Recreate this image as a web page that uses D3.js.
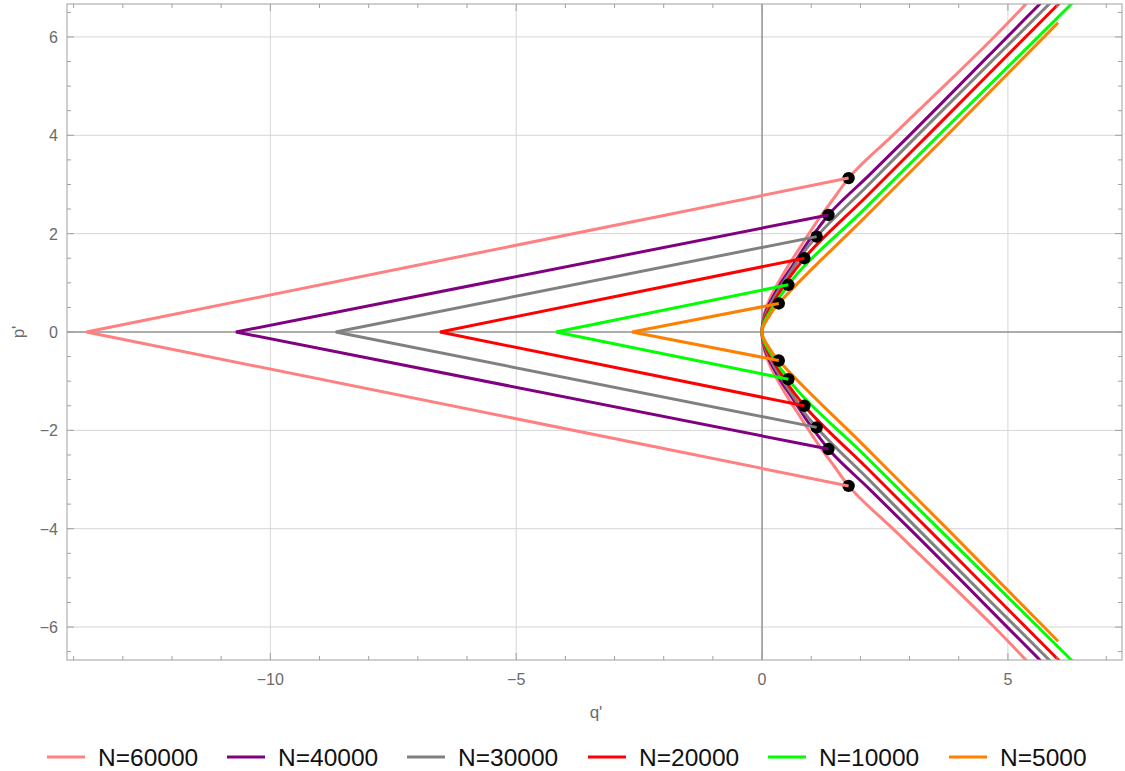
<!DOCTYPE html>
<html>
<head>
<meta charset="utf-8">
<script src="https://cdn.jsdelivr.net/npm/d3@7"></script>
<style>
  html, body { margin: 0; padding: 0; background: #fff; }
  svg { display: block; font-family: "Liberation Sans", Arial, sans-serif; }
</style>
</head>
<body>
<svg id="chart" width="1125" height="771"></svg>
<script>
// ---- data ----
const seriesLabels = ["N=60000", "N=40000", "N=30000", "N=20000", "N=10000", "N=5000"];
const seriesColors = ["#ff8080", "#800080", "#808080", "#ff0000", "#00ff00", "#ff8000"];

// upper branch of each curve: p' values and matching q' values (lower branch is its mirror)
const pPink   = [0, 0.34, 0.68, 1.02, 1.36, 1.70, 2.04, 2.38, 2.72, 3.13, 4.03, 5.0, 6.0, 7.0];
const qPink   = [0, 0.04, 0.16, 0.34, 0.54, 0.76, 0.98, 1.21, 1.46, 1.76, 2.69, 3.70, 4.72, 5.68];
const pPurple = [0, 0.26, 0.52, 0.78, 1.04, 1.29, 1.55, 1.81, 2.07, 2.38, 3.2, 4.03, 6.69, 7.0];
const qPurple = [0, 0.03, 0.12, 0.26, 0.41, 0.58, 0.75, 0.92, 1.11, 1.35, 2.19, 3.03, 5.67, 5.98];
const pGray   = [0, 0.21, 0.42, 0.63, 0.85, 1.06, 1.27, 1.48, 1.69, 1.94, 3.0, 4.03, 6.69, 7.0];
const qGray   = [0, 0.025, 0.10, 0.21, 0.34, 0.47, 0.61, 0.75, 0.90, 1.11, 2.17, 3.19, 5.86, 6.17];
const pRed    = [0, 0.16, 0.33, 0.49, 0.65, 0.81, 0.98, 1.14, 1.30, 1.50, 2.75, 4.03, 6.69, 7.0];
const qRed    = [0, 0.02, 0.08, 0.16, 0.26, 0.36, 0.47, 0.58, 0.70, 0.86, 2.12, 3.40, 6.05, 6.36];
const pGreen  = [0, 0.105, 0.21, 0.315, 0.42, 0.525, 0.63, 0.735, 0.84, 0.96, 2.5, 4.03, 6.69, 7.0];
const qGreen  = [0, 0.013, 0.05, 0.105, 0.17, 0.235, 0.30, 0.37, 0.45, 0.535, 2.08, 3.62, 6.31, 6.62];
const pOrange = [0, 0.06, 0.125, 0.19, 0.25, 0.31, 0.375, 0.44, 0.50, 0.58, 2.3, 4.03, 6.29];
const qOrange = [0, 0.008, 0.03, 0.063, 0.10, 0.14, 0.18, 0.22, 0.27, 0.34, 2.06, 3.79, 6.02];

// black dots (upper; lower mirrored) and apex of the wedge on the q' axis
const dotQ = [1.76, 1.35, 1.11, 0.86, 0.535, 0.34];
const dotP = [3.13, 2.38, 1.94, 1.50, 0.96, 0.58];
const apexQ = [-13.74, -10.70, -8.67, -6.55, -4.19, -2.645];

const xTickLabels = [-10, -5, 0, 5];
const yTickLabels = [-6, -4, -2, 0, 2, 4, 6];
const xDomain = [-14.135, 7.32];
const yDomain = [-6.67, 6.67];

// ---- drawing ----
const curvesP = [pPink, pPurple, pGray, pRed, pGreen, pOrange];
const curvesQ = [qPink, qPurple, qGray, qRed, qGreen, qOrange];

const svg = d3.select("#chart");
const L = 67, R = 1122, T = 4, B = 660;
const x = d3.scaleLinear().domain(xDomain).range([L, R]);
const y = d3.scaleLinear().domain(yDomain).range([B, T]);

svg.append("defs").append("clipPath").attr("id", "plotclip")
  .append("rect").attr("x", L).attr("y", T).attr("width", R - L).attr("height", B - T);

// grid
const grid = svg.append("g");
grid.selectAll("line.vx").data(xTickLabels).join("line")
  .attr("x1", d => x(d)).attr("x2", d => x(d)).attr("y1", T).attr("y2", B)
  .attr("stroke", "#d6d6d6").attr("stroke-width", 1);
grid.selectAll("line.hy").data(yTickLabels).join("line")
  .attr("y1", d => y(d)).attr("y2", d => y(d)).attr("x1", L).attr("x2", R)
  .attr("stroke", "#d6d6d6").attr("stroke-width", 1);

// axes through origin
svg.append("line").attr("x1", L).attr("x2", R).attr("y1", y(0)).attr("y2", y(0))
  .attr("stroke", "#6e6e6e").attr("stroke-width", 1);
svg.append("line").attr("x1", x(0)).attr("x2", x(0)).attr("y1", T).attr("y2", B)
  .attr("stroke", "#6e6e6e").attr("stroke-width", 1);

const plot = svg.append("g").attr("clip-path", "url(#plotclip)");

const curveGen = d3.line().x(d => x(d[0])).y(d => y(d[1])).curve(d3.curveMonotoneY);
const polyGen = d3.line().x(d => x(d[0])).y(d => y(d[1]));

seriesLabels.forEach((lab, i) => {
  const P = curvesP[i], Q = curvesQ[i];
  const pts = [];
  for (let j = P.length - 1; j >= 0; j--) pts.push([Q[j], P[j]]);
  for (let j = 1; j < P.length; j++) pts.push([Q[j], -P[j]]);
  plot.append("path").attr("d", curveGen(pts))
    .attr("fill", "none").attr("stroke", seriesColors[i]).attr("stroke-width", 3);
});

// dots
seriesLabels.forEach((lab, i) => {
  [1, -1].forEach(s => {
    plot.append("circle").attr("cx", x(dotQ[i])).attr("cy", y(s * dotP[i])).attr("r", 6.2)
      .attr("fill", "#000");
  });
});

// wedges
seriesLabels.forEach((lab, i) => {
  const pts = [[dotQ[i], dotP[i]], [apexQ[i], 0], [dotQ[i], -dotP[i]]];
  plot.append("path").attr("d", polyGen(pts))
    .attr("fill", "none").attr("stroke", seriesColors[i]).attr("stroke-width", 3)
    .attr("stroke-linejoin", "miter");
});

// frame
const frameColor = "#a0a0a0";
svg.append("rect").attr("x", L).attr("y", T).attr("width", R - L).attr("height", B - T)
  .attr("fill", "none").attr("stroke", frameColor).attr("stroke-width", 1);

const xMinor = d3.range(-14, 8, 1);
const yMinor = d3.range(-6.5, 6.51, 0.5);
const tk = svg.append("g").attr("stroke", frameColor).attr("stroke-width", 1);
xMinor.forEach(v => {
  const len = (v % 5 === 0) ? 7 : 4;
  tk.append("line").attr("x1", x(v)).attr("x2", x(v)).attr("y1", B).attr("y2", B - len);
  tk.append("line").attr("x1", x(v)).attr("x2", x(v)).attr("y1", T).attr("y2", T + len);
});
yMinor.forEach(v => {
  const len = (Math.abs(v) % 2 === 0) ? 7 : 4;
  tk.append("line").attr("y1", y(v)).attr("y2", y(v)).attr("x1", L).attr("x2", L + len);
  tk.append("line").attr("y1", y(v)).attr("y2", y(v)).attr("x1", R).attr("x2", R - len);
});

// tick labels
const fmt = v => (v < 0 ? "\u2212" + Math.abs(v) : String(v));
svg.append("g").selectAll("text").data(xTickLabels).join("text")
  .attr("x", d => x(d)).attr("y", 685).attr("text-anchor", "middle")
  .attr("font-size", 16).attr("fill", "#6b6b6b").text(fmt);
svg.append("g").selectAll("text").data(yTickLabels).join("text")
  .attr("x", 58).attr("y", d => y(d) + 6).attr("text-anchor", "end")
  .attr("font-size", 16).attr("fill", "#6b6b6b").text(fmt);

// axis titles
svg.append("text").attr("x", 596).attr("y", 718).attr("text-anchor", "middle")
  .attr("font-size", 17).attr("fill", "#6b6b6b").text("q'");
svg.append("text").attr("transform", "translate(24,332) rotate(-90)").attr("text-anchor", "middle")
  .attr("font-size", 17).attr("fill", "#6b6b6b").text("p'");

// legend
const legend = svg.append("g");
const legX = [47, 227, 407, 588, 768, 949];
seriesLabels.forEach((lab, i) => {
  const g = legend.append("g").attr("transform", `translate(${legX[i]},757)`);
  g.append("line").attr("x1", 0).attr("x2", 38).attr("y1", 0).attr("y2", 0)
    .attr("stroke", seriesColors[i]).attr("stroke-width", 3);
  g.append("text").attr("x", 51).attr("y", 9).attr("font-size", 24.5).attr("fill", "#111").text(lab);
});
</script>
</body>
</html>
